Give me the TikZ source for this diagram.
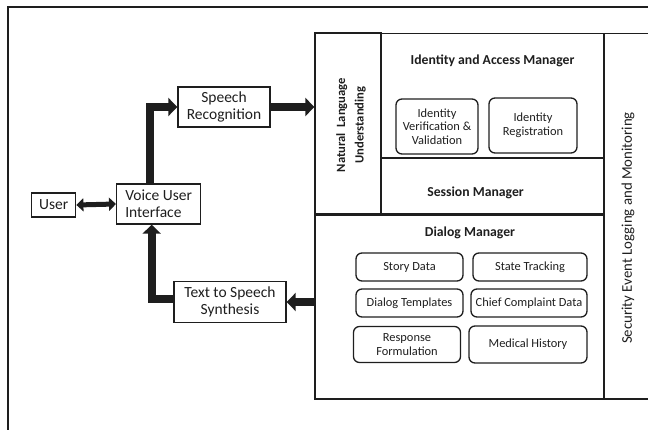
\documentclass[tikz,border=0pt]{standalone}
\usepackage{fontspec}
\setmainfont{Carlito}
\usetikzlibrary{arrows.meta,calc}
\definecolor{ink}{HTML}{1E1E1E}
\tikzset{
  plainbox/.style={draw=ink, line width=1.4pt, rectangle, inner sep=1pt, align=center, text=ink, font=\fontsize{15.5}{17}\selectfont},
  roundbox/.style={draw=ink, line width=1.3pt, rounded corners=6pt, inner sep=1pt, align=center, text=ink, font=\fontsize{12.4}{13.5}\selectfont},
  region/.style={draw=ink, line width=1.3pt, rectangle, inner sep=0pt},
  title/.style={text=ink, font=\bfseries\fontsize{13.7}{15}\selectfont, align=center},
  fat/.style={ink, line width=8pt, -{Triangle[length=9pt,width=18pt]}},
  fatdouble/.style={ink, line width=5pt, {Triangle[length=7pt,width=13pt]}-{Triangle[length=7pt,width=13pt]}},
}
\begin{document}
\begin{tikzpicture}[x=1pt,y=-1pt]
\useasboundingbox (0,0) rectangle (648,430);
% outer frame
\draw[ink, line width=2pt] (8,440) -- (8,7.5) -- (660,7.5);
% main block regions
\node[region, minimum width=66pt, minimum height=181pt] (NLU) at (348,123.5) {};
\node[region, minimum width=223pt, minimum height=124.5pt] (IAM) at (492.5,95.75) {};
\node[region, minimum width=223pt, minimum height=56.5pt] (SM) at (492.5,186) {};
\node[region, minimum width=289pt, minimum height=184pt] (DM) at (459.5,307) {};
\draw[ink, line width=1.4pt] (315,33.5) -- (660,33.5);
\draw[ink, line width=1.4pt] (315,399) -- (660,399);
\draw[ink, line width=1.4pt] (604,33.5) -- (604,399);
\draw[ink, line width=2.4pt] (315,214.5) -- (604,214.5);
\coordinate (SECc) at (628,228);
\node[rotate=90, text=ink, font=\fontsize{14.8}{16}\selectfont] (SEC) at (SECc) {Security Event Logging and Monitoring};
% region titles
\node[rotate=90, title, font=\bfseries\fontsize{12.6}{18.5}\selectfont] (NLUt) at (351,125) {Natural~~Language\\Understanding};
\node[title] (IAMt) at (492.5,61) {Identity and Access Manager};
\node[title] (SMt) at (475.5,193) {Session Manager};
\node[title] (DMt) at (470,233) {Dialog Manager};
% inner boxes
\node[roundbox, minimum width=82pt, minimum height=55pt] (IVV) at (437,126.5) {Identity\\Verification \&\\Validation};
\node[roundbox, minimum width=88pt, minimum height=55pt] (IR) at (533,125.5) {Identity\\Registration};
\node[roundbox, minimum width=107pt, minimum height=28pt] (SD) at (409.5,267) {Story Data};
\node[roundbox, minimum width=114pt, minimum height=28pt] (ST) at (530,267) {State Tracking};
\node[roundbox, minimum width=107pt, minimum height=28pt] (DT) at (409.5,303) {Dialog Templates};
\node[roundbox, minimum width=116pt, minimum height=28pt] (CC) at (529,303) {Chief Complaint Data};
\node[roundbox, minimum width=107pt, minimum height=36pt] (RF) at (407,344.5) {Response\\Formulation};
\node[roundbox, minimum width=118pt, minimum height=37pt] (MH) at (528,344.5) {Medical History};
% left boxes
\node[plainbox, minimum width=44pt, minimum height=24pt] (U) at (53.7,205) {User};
\node[plainbox, minimum width=84pt, minimum height=40pt, align=left] (VUI) at (158.7,204) {Voice User\\Interface};
\node[plainbox, minimum width=92pt, minimum height=40pt] (SR) at (224,107) {Speech\\Recognition};
\node[plainbox, minimum width=112pt, minimum height=41pt] (TTS) at (230,302) {Text to Speech\\Synthesis};
% connectors
\draw[fatdouble] (U.east) -- (VUI.west);
\draw[fat] ([xshift=-9pt]VUI.north) |- (SR.west);
\draw[fat] (SR.east) -- (SR.east -| NLU.west);
\draw[fat] (DM.west |- TTS.east) -- (TTS.east);
\draw[fat] ([yshift=3pt]TTS.west) -| ([xshift=-7pt]VUI.south);
\end{tikzpicture}
\end{document}
